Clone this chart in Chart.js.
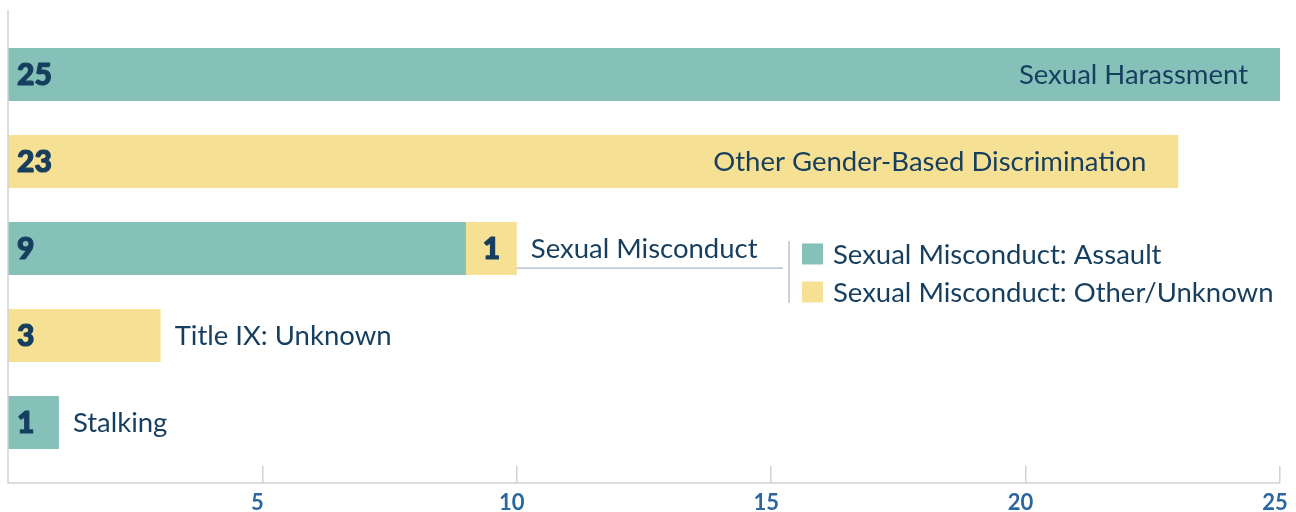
<!DOCTYPE html>
<html>
<head>
<meta charset="utf-8">
<script src="https://cdn.jsdelivr.net/npm/chart.js@4"></script>
<style>
  html, body { margin: 0; padding: 0; background: #fff; }
  #wrap { width: 1296px; height: 512px; position: relative; }
</style>
</head>
<body>
<div id="wrap"><canvas id="titleChart"></canvas></div>
<script>
  // categories, top to bottom
  const categories = ["Sexual Harassment", "Other Gender-Based Discrimination", "Sexual Misconduct", "Title IX: Unknown", "Stalking"];
  // teal series / yellow series (stacked)
  const tealValues = [25, null, 9, null, 1];
  const yellowValues = [null, 23, 1, 3, null];
  const legendLabels = ["Sexual Misconduct: Assault", "Sexual Misconduct: Other/Unknown"];
  const xTicks = [5, 10, 15, 20, 25];

  const TEAL = "#85c1b8";
  const YELLOW = "#f6e093";
  const NAVY = "#163e5f";
  const FONT = "Lato, 'Open Sans', sans-serif";

  // draws axis lines, value numbers, category names and the little legend
  const labelPlugin = {
    id: "labelPlugin",
    afterDatasetsDraw(chart) {
      const ctx = chart.ctx;
      const xs = chart.scales.x;
      const area = chart.chartArea;
      const tickLen = chart.options.scales.x.grid.tickLength;
      const x0 = xs.getPixelForValue(0);

      ctx.save();
      // axis lines
      ctx.strokeStyle = "#d2d2d2";
      ctx.lineWidth = 1.5;
      ctx.beginPath();
      ctx.moveTo(x0, 10);
      ctx.lineTo(x0, area.bottom + tickLen);
      ctx.lineTo(area.right, area.bottom + tickLen);
      ctx.stroke();

      // value numbers inside bars (stroked a bit to look heavier)
      ctx.fillStyle = NAVY;
      ctx.strokeStyle = NAVY;
      ctx.lineWidth = 1.2;
      ctx.lineJoin = "round";
      ctx.textBaseline = "middle";
      ctx.font = "900 30px " + FONT;
      chart.data.datasets.forEach((ds, di) => {
        chart.getDatasetMeta(di).data.forEach((bar, i) => {
          const v = ds.data[i];
          if (v == null) return;
          const left = Math.min(bar.x, bar.base);
          let tx = left + 9;
          if (left - x0 > 2) {
            ctx.textAlign = "center";
            tx = (bar.x + bar.base) / 2;
          } else {
            ctx.textAlign = "left";
          }
          ctx.fillText(v, tx, bar.y + 1);
          ctx.strokeText(v, tx, bar.y + 1);
        });
      });

      // category names
      ctx.font = "27.5px " + FONT;
      categories.forEach((cat, i) => {
        const total = (tealValues[i] || 0) + (yellowValues[i] || 0);
        const end = xs.getPixelForValue(total);
        const bar = chart.getDatasetMeta(0).data[i];
        const w = ctx.measureText(cat).width;
        if (end - x0 > w + 300) {
          ctx.textAlign = "right";
          ctx.fillText(cat, end - 32, bar.y + 1);
        } else {
          ctx.textAlign = "left";
          ctx.fillText(cat, end + 14, bar.y + 1);
        }
        // stacked row gets underline + legend
        if (tealValues[i] && yellowValues[i]) {
          const h = bar.height;
          const top = bar.y - h / 2;
          const legX = 789;
          ctx.strokeStyle = "#a9b3c6";
          ctx.lineWidth = 1.2;
          ctx.beginPath();
          ctx.moveTo(end, top + h - 7);
          ctx.lineTo(legX - 6, top + h - 7);
          ctx.moveTo(legX, top + 19);
          ctx.lineTo(legX, top + 81);
          ctx.stroke();
          [TEAL, YELLOW].forEach((c, k) => {
            const cy = top + 32 + k * 38;
            ctx.fillStyle = c;
            ctx.fillRect(legX + 13, cy - 10.5, 21, 21);
            ctx.fillStyle = NAVY;
            ctx.textAlign = "left";
            ctx.fillText(legendLabels[k], legX + 44, cy + 1);
          });
        }
      });
      ctx.restore();
    }
  };

  const ctx = document.getElementById("titleChart").getContext("2d");
  const titleChart = new Chart(ctx, {
    type: "bar",
    data: {
      labels: categories,
      datasets: [
        { label: legendLabels[0], data: tealValues, backgroundColor: TEAL },
        { label: legendLabels[1], data: yellowValues, backgroundColor: YELLOW }
      ]
    },
    options: {
      indexAxis: "y",
      responsive: true,
      maintainAspectRatio: false,
      animation: false,
      layout: { padding: { left: 8, right: 16, top: 31, bottom: 0 } },
      plugins: {
        legend: { display: false },
        tooltip: { enabled: false }
      },
      datasets: {
        bar: { categoryPercentage: 1, barPercentage: 0.61 }
      },
      scales: {
        x: {
          stacked: true,
          min: 0,
          max: 25,
          afterBuildTicks: (scale) => { scale.ticks = xTicks.map(v => ({ value: v })); },
          afterFit: (scale) => {
            scale.height = 46;
            scale.paddingLeft = 0;
            scale.paddingRight = 0;
          },
          border: { display: false },
          grid: { drawOnChartArea: false, drawTicks: true, tickLength: 17, color: "#d2d2d2", lineWidth: 1.5 },
          ticks: {
            color: "#2b679d",
            padding: 9,
            labelOffset: -5,
            font: { family: FONT, size: 22, weight: "bold", lineHeight: 1 }
          }
        },
        y: {
          stacked: true,
          display: false
        }
      }
    },
    plugins: [labelPlugin]
  });
</script>
</body>
</html>
